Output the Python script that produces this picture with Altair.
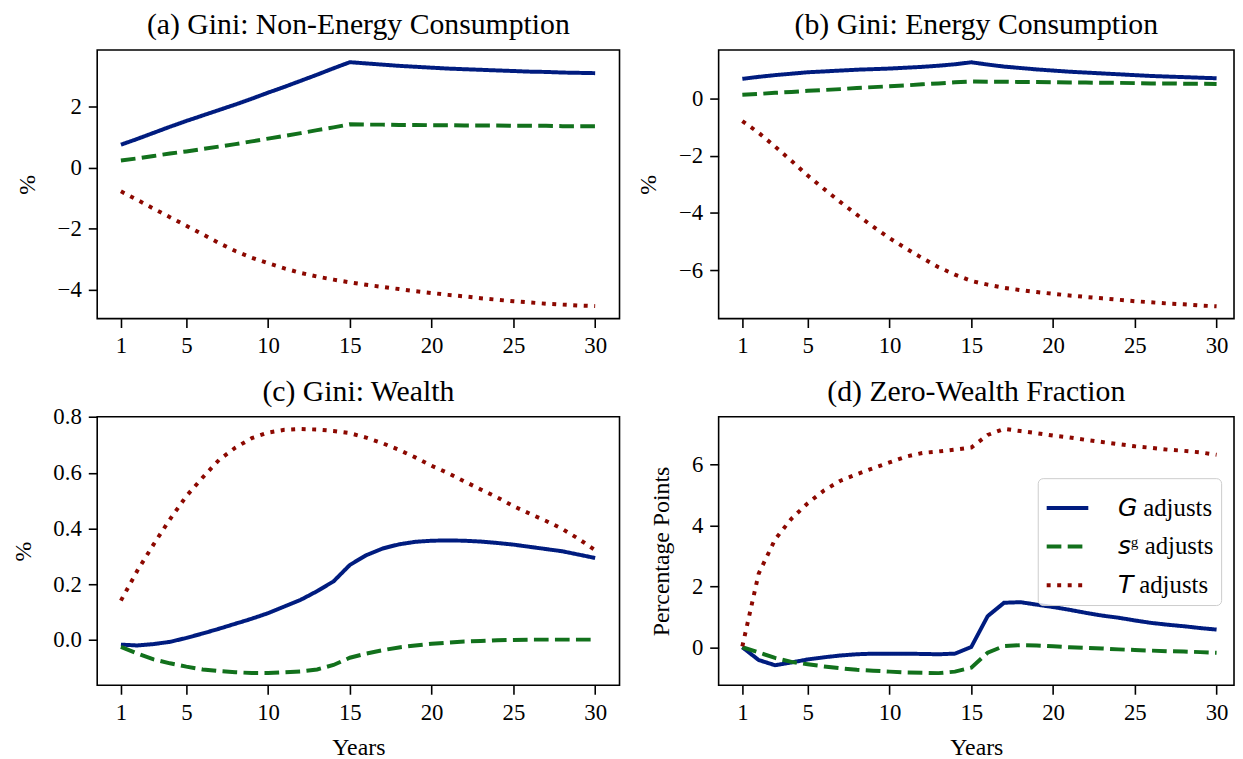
import altair as alt
import pandas as pd

years = list(range(1, 31))
series_names = ["𝘎 adjusts", "𝘴ᵍ adjusts", "𝘛 adjusts"]
colors = ["#001c7f", "#12711c", "#8c0800"]
dashes = [[1, 0], [14.8, 6.4], [4, 6.6]]
x_ticks = [1, 5, 10, 15, 20, 25, 30]

# (a) Gini: Non-Energy Consumption
a_G = [0.76, 0.95, 1.15, 1.35, 1.54, 1.72, 1.90, 2.08, 2.27, 2.47, 2.66, 2.86, 3.06, 3.27, 3.47,
       3.43, 3.39, 3.35, 3.32, 3.29, 3.26, 3.24, 3.22, 3.20, 3.18, 3.16, 3.15, 3.13, 3.12, 3.11]
a_S = [0.24, 0.31, 0.39, 0.47, 0.54, 0.62, 0.70, 0.78, 0.87, 0.96, 1.05, 1.14, 1.24, 1.33, 1.43,
       1.42, 1.42, 1.41, 1.41, 1.40, 1.40, 1.39, 1.39, 1.39, 1.38, 1.38, 1.38, 1.37, 1.37, 1.37]
a_T = [-0.77, -1.05, -1.34, -1.62, -1.90, -2.18, -2.47, -2.73, -2.95, -3.13, -3.30, -3.45, -3.57, -3.67, -3.76,
       -3.84, -3.91, -3.98, -4.05, -4.11, -4.17, -4.22, -4.28, -4.33, -4.38, -4.42, -4.46, -4.49, -4.52, -4.54]

# (b) Gini: Energy Consumption
b_G = [0.70, 0.77, 0.83, 0.88, 0.93, 0.96, 0.99, 1.02, 1.04, 1.06, 1.09, 1.12, 1.16, 1.21, 1.28,
       1.20, 1.13, 1.08, 1.03, 0.99, 0.95, 0.92, 0.89, 0.86, 0.83, 0.80, 0.78, 0.76, 0.74, 0.72]
b_S = [0.14, 0.17, 0.21, 0.24, 0.28, 0.31, 0.34, 0.38, 0.41, 0.44, 0.47, 0.51, 0.54, 0.58, 0.61,
       0.60, 0.60, 0.59, 0.59, 0.58, 0.57, 0.57, 0.56, 0.56, 0.55, 0.54, 0.54, 0.53, 0.53, 0.52]
b_T = [-0.78, -1.19, -1.67, -2.17, -2.69, -3.16, -3.62, -4.06, -4.48, -4.88, -5.24, -5.58, -5.90, -6.16, -6.38,
       -6.51, -6.62, -6.70, -6.77, -6.83, -6.89, -6.94, -6.99, -7.04, -7.09, -7.13, -7.17, -7.20, -7.24, -7.27]

# (c) Gini: Wealth
c_G = [-0.017, -0.020, -0.015, -0.007, 0.007, 0.023, 0.040, 0.058, 0.076, 0.096, 0.120, 0.144, 0.175, 0.210, 0.269,
       0.304, 0.328, 0.343, 0.352, 0.356, 0.357, 0.356, 0.353, 0.348, 0.342, 0.334, 0.326, 0.318, 0.306, 0.294]
c_S = [-0.025, -0.049, -0.070, -0.084, -0.096, -0.106, -0.112, -0.116, -0.119, -0.119, -0.116, -0.113, -0.106, -0.090, -0.064,
       -0.049, -0.037, -0.027, -0.020, -0.014, -0.010, -0.006, -0.004, -0.001, 0.000, 0.001, 0.001, 0.001, 0.001, 0.001]
c_T = [0.141, 0.248, 0.343, 0.433, 0.516, 0.583, 0.646, 0.690, 0.724, 0.744, 0.754, 0.757, 0.755, 0.750, 0.742,
       0.726, 0.706, 0.682, 0.655, 0.625, 0.599, 0.569, 0.540, 0.512, 0.480, 0.453, 0.427, 0.398, 0.362, 0.322]

# (d) Zero-Wealth Fraction
d_G = [0.00, -0.42, -0.59, -0.50, -0.40, -0.33, -0.27, -0.23, -0.21, -0.21, -0.21, -0.22, -0.23, -0.21, 0.01,
       1.02, 1.46, 1.48, 1.40, 1.32, 1.23, 1.13, 1.04, 0.97, 0.88, 0.80, 0.74, 0.69, 0.63, 0.58]
d_S = [0.00, -0.17, -0.35, -0.48, -0.56, -0.63, -0.69, -0.74, -0.77, -0.80, -0.83, -0.84, -0.85, -0.80, -0.67,
       -0.18, 0.04, 0.07, 0.06, 0.03, 0.00, -0.02, -0.04, -0.07, -0.09, -0.11, -0.13, -0.14, -0.16, -0.18]
d_T = [0.03, 2.42, 3.54, 4.22, 4.73, 5.15, 5.47, 5.68, 5.88, 6.07, 6.26, 6.38, 6.43, 6.49, 6.56,
       6.97, 7.17, 7.10, 7.03, 6.95, 6.89, 6.81, 6.74, 6.67, 6.60, 6.55, 6.49, 6.45, 6.40, 6.32]

panel_titles = ["(a) Gini: Non-Energy Consumption", "(b) Gini: Energy Consumption",
                "(c) Gini: Wealth", "(d) Zero-Wealth Fraction"]
y_titles = ["%", "%", "%", "Percentage Points"]
y_ticks = [[-4, -2, 0, 2], [-6, -4, -2, 0], [0, 0.2, 0.4, 0.6, 0.8], [0, 2, 4, 6]]
y_formats = ["d", "d", ".1f", "d"]
y_domains = [[-4.95, 3.87], [-7.70, 1.71], [-0.163, 0.801], [-1.25, 7.57]]
panel_series = [(a_G, a_S, a_T), (b_G, b_S, b_T), (c_G, c_S, c_T), (d_G, d_S, d_T)]
title_offsets = [10, 10, -1, 10]

FONT = "Liberation Serif"

def panel_df(series):
    rows = []
    for name, vals in zip(series_names, series):
        for yr, v in zip(years, vals):
            rows.append({"year": yr, "series": name, "value": v})
    return pd.DataFrame(rows)

def make_panel(i, width, xmax, show_xtitle, show_legend):
    df = panel_df(panel_series[i])
    if show_legend:
        leg = alt.Legend(title=None, orient="none", legendX=322, legendY=62,
                         fillColor="rgba(255,255,255,0.8)", strokeColor="#cccccc",
                         cornerRadius=5, padding=7, symbolType="stroke", symbolSize=1764,
                         symbolStrokeWidth=4, labelFont=FONT, labelFontSize=25,
                         labelColor="black", rowPadding=3, labelOffset=28)
    else:
        leg = None
    xaxis = alt.Axis(values=x_ticks, title="Years" if show_xtitle else None, format="d",
                     titlePadding=12)
    yaxis = alt.Axis(values=y_ticks[i], title=y_titles[i], format=y_formats[i])
    chart = alt.Chart(df).mark_line(strokeWidth=4, strokeCap="butt").encode(
        x=alt.X("year:Q", axis=xaxis,
                scale=alt.Scale(domain=[-0.45, xmax], nice=False, zero=False)),
        y=alt.Y("value:Q", axis=yaxis,
                scale=alt.Scale(domain=y_domains[i], nice=False, zero=False)),
        color=alt.Color("series:N", legend=leg,
                        scale=alt.Scale(domain=series_names, range=colors)),
        strokeDash=alt.StrokeDash("series:N", legend=leg,
                                  scale=alt.Scale(domain=series_names, range=dashes)),
        order=alt.Order("year:Q"),
    ).properties(
        width=width, height=271,
        title=alt.TitleParams(panel_titles[i], font=FONT, fontSize=30, fontWeight="normal",
                              color="black", offset=title_offsets[i], anchor="middle"),
    )
    return chart

w1 = 527
w2 = 520
xmax1 = -0.45 + w1 / 16.5
xmax2 = -0.45 + w2 / 16.5

pa = make_panel(0, w1, xmax1, False, False)
pb = make_panel(1, w2, xmax2, False, False)
pc = make_panel(2, w1, xmax1, True, False)
pd_ = make_panel(3, w2, xmax2, True, True)

chart = alt.concat(pa, pb, pc, pd_, columns=2, spacing={"row": 18, "column": 15}).resolve_scale(
    color="independent", strokeDash="independent", x="independent", y="independent"
).properties(
    padding={"left": 2, "top": -2, "right": 0, "bottom": 0},
    background="white"
).configure_view(
    stroke="black", strokeWidth=1.6
).configure_axis(
    grid=False, domain=False, ticks=True, tickColor="black", tickWidth=1.6, tickSize=9,
    labelFont=FONT, labelFontSize=23, labelColor="black", labelPadding=7,
    titleFont=FONT, titleFontSize=24, titleFontWeight="normal", titleColor="black",
    titlePadding=18, labelFlush=False, labelOverlap=False
)

chart.save("out.html", embed_options={"renderer": "svg", "actions": False})
